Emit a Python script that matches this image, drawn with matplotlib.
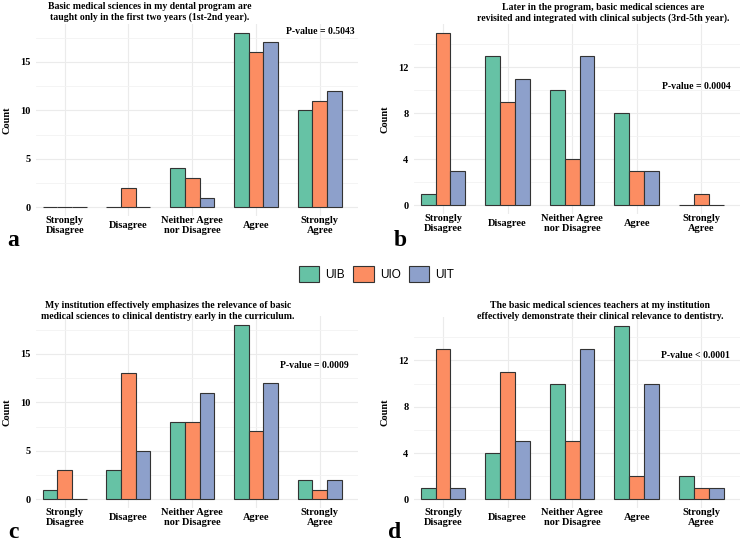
import matplotlib
matplotlib.use("Agg")
from matplotlib import pyplot as plt
from matplotlib.patches import Patch
import numpy as np

categories = ["Strongly\nDisagree", "Disagree", "Neither Agree\nnor Disagree", "Agree", "Strongly\nAgree"]
groups = ["UIB", "UIO", "UIT"]
colors = ["#66c2a5", "#fc8d62", "#8da0cb"]

# counts per panel: rows = UIB, UIO, UIT
a_counts = [[0, 0, 4, 18, 10], [0, 2, 3, 16, 11], [0, 0, 1, 17, 12]]
b_counts = [[1, 13, 10, 8, 0], [15, 9, 4, 3, 1], [3, 11, 13, 3, 0]]
c_counts = [[1, 3, 8, 18, 2], [3, 13, 8, 7, 1], [0, 5, 11, 12, 2]]
d_counts = [[1, 4, 10, 15, 2], [13, 11, 5, 2, 1], [1, 5, 13, 10, 1]]

titles = ["Basic medical sciences in my dental program are\ntaught only in the first two years (1st-2nd year).",
          "Later in the program, basic medical sciences are\nrevisited and integrated with clinical subjects (3rd-5th year).",
          "My institution effectively emphasizes the relevance of basic\nmedical sciences to clinical dentistry early in the curriculum.",
          "The basic medical sciences teachers at my institution\neffectively demonstrate their clinical relevance to dentistry."]
pvalues = ["P-value = 0.5043", "P-value = 0.0004", "P-value = 0.0009", "P-value < 0.0001"]
letters = ["a", "b", "c", "d"]

W, H = 741, 541
SERIF = "Liberation Serif"

fig = plt.figure(figsize=(W / 100, H / 100), dpi=100)

def px_axes(left, top, right, bottom):
    return fig.add_axes([left / W, 1 - bottom / H, (right - left) / W, (bottom - top) / H])

def panel(ax, counts, ymax, major, pval, pval_xy):
    x = np.arange(len(categories))
    w = 0.23
    for i, g in enumerate(groups):
        ax.bar(x + (i - 1) * w, counts[i], w, color=colors[i], edgecolor="#333333",
               linewidth=0.8, zorder=3)
    ax.set_xlim(-0.45, 4.6)
    ax.set_ylim(-ymax * 0.05, ymax * 1.05)
    ax.set_yticks(np.arange(0, ymax + 0.1, major))
    ax.set_yticks(np.arange(major / 2, ymax * 1.05, major), minor=True)
    ax.set_xticks(x)
    ax.set_xticklabels(categories, fontfamily=SERIF, fontweight="bold", fontsize=7.5,
                       va="center", linespacing=1.15)
    ax.tick_params(axis="x", length=0, pad=7)
    ax.tick_params(axis="y", which="both", length=0, pad=4)
    for lab in ax.get_yticklabels():
        lab.set_fontfamily(SERIF)
        lab.set_fontweight("bold")
        lab.set_fontsize(7.5)
    ax.grid(True, which="major", color="#ebebeb", linewidth=0.8, zorder=0)
    ax.grid(True, which="minor", axis="y", color="#f3f3f3", linewidth=0.6, zorder=0)
    for s in ax.spines.values():
        s.set_visible(False)
    ax.set_ylabel("Count", fontfamily=SERIF, fontweight="bold", fontsize=7.5, labelpad=6)
    ax.text(pval_xy[0], pval_xy[1], pval, ha="right", va="center", fontfamily=SERIF,
            fontweight="bold", fontsize=7)

ax_a = px_axes(36, 24, 358, 216)
panel(ax_a, a_counts, 18, 5, pvalues[0], (4.55, 18.1))
ax_b = px_axes(414, 24, 740, 214)
panel(ax_b, b_counts, 15, 4, pvalues[1], (4.45, 10.3))
ax_c = px_axes(36, 316, 358, 508)
panel(ax_c, c_counts, 18, 5, pvalues[2], (4.45, 13.8))
ax_d = px_axes(414, 317, 740, 508)
panel(ax_d, d_counts, 15, 4, pvalues[3], (4.45, 12.4))

# titles and panel letters
title_pos = [(150, 12), (603, 13), (168, 311), (600, 311)]
letter_pos = [(13, 240), (400, 240), (13, 532), (395, 532)]
for t, (tx, ty) in zip(titles, title_pos):
    fig.text(tx / W, 1 - ty / H, t, ha="center", va="center", fontfamily=SERIF,
             fontweight="bold", fontsize=7, linespacing=1.3)
for l, (lx, ly) in zip(letters, letter_pos):
    fig.text(lx / W, 1 - ly / H, l, ha="center", va="center", fontfamily=SERIF,
             fontweight="bold", fontsize=17)

handles = [Patch(facecolor=c, edgecolor="#333333", linewidth=0.8) for c in colors]
fig.legend(handles, groups, loc="center", bbox_to_anchor=(0.508, 1 - 274 / H), ncol=3,
           frameon=False, prop={"family": "Liberation Sans", "size": 8.5},
           handlelength=1.75, handleheight=1.75, handletextpad=0.5, columnspacing=0.7)

fig.savefig("out.png", dpi=100)
